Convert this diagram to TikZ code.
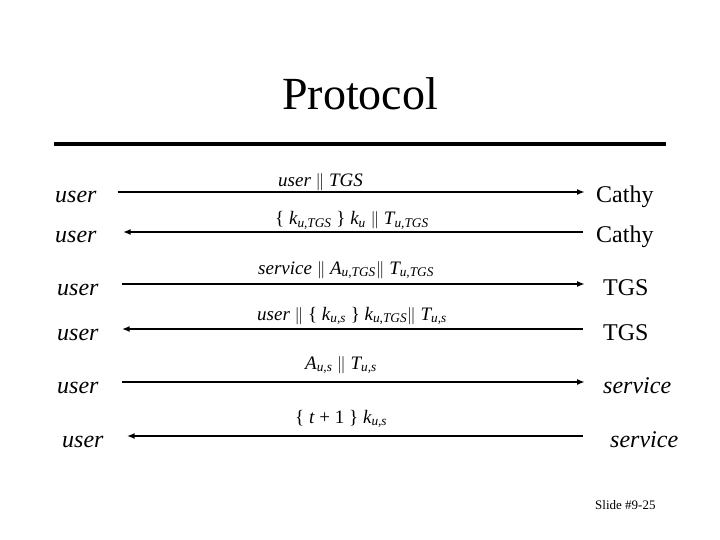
\documentclass[tikz,border=0pt]{standalone}
\usepackage{fontspec}
\setmainfont{Liberation Serif}
\usetikzlibrary{arrows.meta}
\newcommand{\sbs}[1]{\textsubscript{\itshape #1}}
\newcommand{\cat}{\ensuremath{\|}}
\newcommand{\up}[1]{\textup{#1}}

\begin{document}
\begin{tikzpicture}[
        x=1pt, y=-1pt,
        >={Latex[length=8pt,width=6pt]},
        % --- node styles ---
        party/.style={
            font=\fontsize{24}{28}\selectfont\itshape,
            inner sep=0pt, text height=22pt, text depth=0pt,
            anchor=base west
        },
        server/.style={
            font=\fontsize{24}{28}\selectfont,
            inner sep=0pt, text height=22pt, text depth=0pt,
            anchor=base west
        },
        msg/.style={
            font=\fontsize{19}{23}\selectfont\itshape,
            inner sep=0pt, anchor=base west
        },
        % --- edge style ---
        link/.style={line width=1.6pt}
    ]
    \useasboundingbox (0,0) rectangle (720,540);

    % --- title and rule ---
    \node[font=\fontsize{46}{52}\selectfont, inner sep=0pt, anchor=base west]
        (title) at (282,110) {Protocol};
    \draw[line width=4pt] (54,144) -- (666,144);

    % --- left column: user ---
    \node[party] (user1) at (55,203) {user};
    \node[party] (user2) at (55,243) {user};
    \node[party] (user3) at (57,295) {user};
    \node[party] (user4) at (57,340) {user};
    \node[party] (user5) at (57,393) {user};
    \node[party] (user6) at (62,447) {user};

    % --- right column: servers ---
    \node[server] (cathy1) at (596,203) {Cathy};
    \node[server] (cathy2) at (596,243) {Cathy};
    \node[server] (tgs1)   at (603,295) {TGS};
    \node[server] (tgs2)   at (603,340) {TGS};
    \node[server, font=\fontsize{24}{28}\selectfont\itshape] (svc1) at (603,393) {service};
    \node[server, font=\fontsize{24}{28}\selectfont\itshape] (svc2) at (610,447) {service};

    % --- messages ---
    \node[msg] (msg1) at (278,187) {user \cat{} TGS};
    \node[msg] (msg2) at (275,225)
        {\up{\{} k\sbs{u,TGS} \up{\}} k\sbs{u} \cat{} T\sbs{u,TGS}};
    \node[msg] (msg3) at (258,274)
        {service \cat{} A\sbs{u,TGS}\cat{} T\sbs{u,TGS}};
    \node[msg] (msg4) at (257,320)
        {user \cat{} \up{\{} k\sbs{u,s} \up{\}} k\sbs{u,TGS}\cat{} T\sbs{u,s}};
    \node[msg] (msg5) at (305,369) {A\sbs{u,s} \cat{} T\sbs{u,s}};
    \node[msg] (msg6) at (295,423) {\up{\{} t \up{+ 1 \}} k\sbs{u,s}};

    % ===== Arrows =====
    \draw[link,->] ([xshift=21pt]user1.east) -- ([xshift=-11pt]cathy1.west);
    \draw[link,<-] ([xshift=26pt]user2.east) -- ([xshift=-13pt]cathy2.west);
    \draw[link,->] ([xshift=23pt]user3.east) -- ([xshift=-18pt]tgs1.west);
    \draw[link,<-] ([xshift=23pt]user4.east) -- ([xshift=-20pt]tgs2.west);
    \draw[link,->] ([xshift=23pt]user5.east) -- ([xshift=-18pt]svc1.west);
    \draw[link,<-] ([xshift=23pt]user6.east) -- ([xshift=-27pt]svc2.west);

    % --- footer ---
    \node[font=\fontsize{13}{15}\selectfont, inner sep=0pt, anchor=base west]
        (slide) at (595,509) {Slide \#9-25};

\end{tikzpicture}
\end{document}
